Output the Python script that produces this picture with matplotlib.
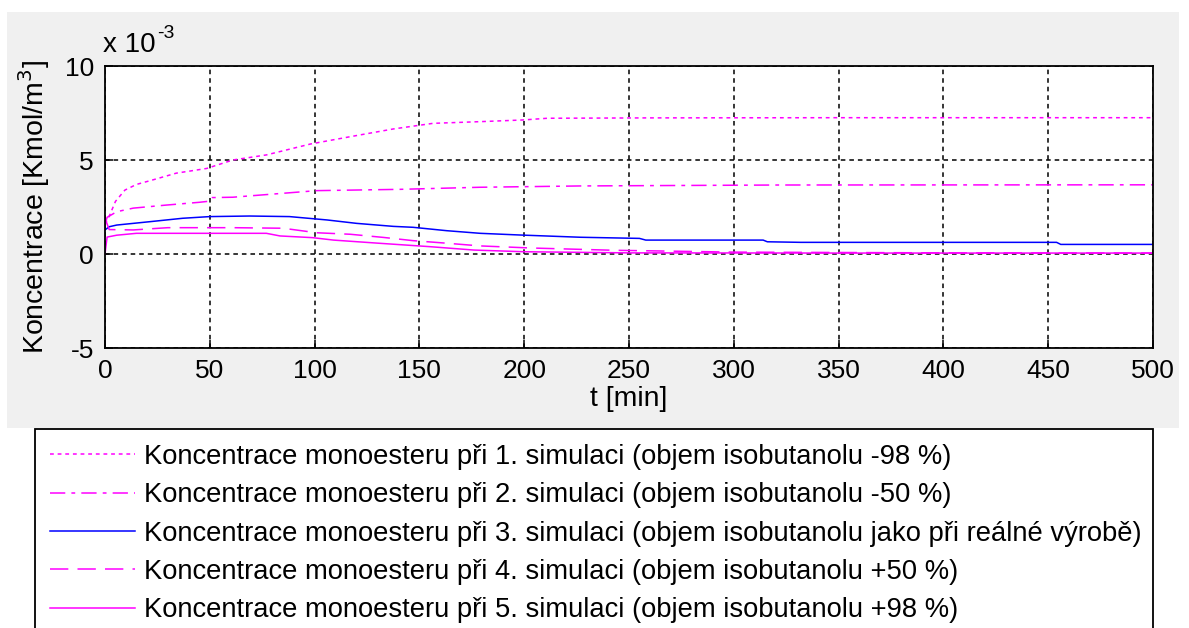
import matplotlib
matplotlib.use("Agg")
import matplotlib.pyplot as plt
from matplotlib.patches import Rectangle

plt.rcParams['font.family'] = ['Liberation Sans', 'DejaVu Sans']

# time [min] and concentrations [x 1e-3 Kmol/m3]
t1 = [0, 2, 5, 9.5, 15, 21.5, 34, 48.5, 61, 77, 98, 117, 137.5, 147, 156.5, 179, 199.5, 211, 260, 350, 500]
c1 = [1.6, 2.0, 2.8, 3.4, 3.7, 3.9, 4.3, 4.55, 5.0, 5.27, 5.85, 6.24, 6.65, 6.8, 6.95, 7.04, 7.13, 7.22, 7.24, 7.25, 7.25]

t2 = [0, 1, 5.6, 13.5, 29, 45, 49, 51, 61, 85, 101, 141, 179, 227, 322, 500]
c2 = [1.6, 1.95, 2.25, 2.44, 2.6, 2.75, 2.8, 3.0, 3.02, 3.23, 3.37, 3.44, 3.55, 3.62, 3.67, 3.68]

t3 = [0, 2, 5.6, 21.5, 37, 50, 69, 88, 106, 120, 137.5, 147, 163, 179, 198, 227, 255, 258, 314, 316, 332, 454, 456, 500]
c3 = [1.28, 1.45, 1.54, 1.72, 1.9, 1.99, 2.02, 1.99, 1.81, 1.63, 1.47, 1.42, 1.24, 1.1, 1.01, 0.89, 0.83, 0.74, 0.74, 0.65, 0.62, 0.62, 0.51, 0.51]

t4 = [0, 2, 13.5, 30, 61, 85, 101, 117, 133, 147, 160, 179, 203, 242, 300, 400, 500]
c4 = [1.9, 1.3, 1.28, 1.4, 1.4, 1.37, 1.13, 1.05, 0.88, 0.71, 0.6, 0.43, 0.32, 0.2, 0.1, 0.06, 0.05]

t5 = [0, 1, 5.6, 15, 77, 83.5, 99, 109, 131, 155, 176, 200, 250, 350, 500]
c5 = [0.0, 0.9, 1.0, 1.1, 1.1, 0.96, 0.87, 0.74, 0.57, 0.39, 0.21, 0.12, 0.06, 0.05, 0.05]

labels = [
    "Koncentrace monoesteru při 1. simulaci (objem isobutanolu -98 %)",
    "Koncentrace monoesteru při 2. simulaci (objem isobutanolu -50 %)",
    "Koncentrace monoesteru při 3. simulaci (objem isobutanolu jako při reálné výrobě)",
    "Koncentrace monoesteru při 4. simulaci (objem isobutanolu +50 %)",
    "Koncentrace monoesteru při 5. simulaci (objem isobutanolu +98 %)",
]
xticks = [0, 50, 100, 150, 200, 250, 300, 350, 400, 450, 500]
yticks = [-5, 0, 5, 10]

W, H = 1189, 628
fig = plt.figure(figsize=(W / 100, H / 100), dpi=100, facecolor='white')

# gray figure panel
fig.patches.append(Rectangle((7 / W, 1 - 428 / H), (1179 - 7) / W, (428 - 12) / H,
                             transform=fig.transFigure, facecolor='#f0f0f0',
                             edgecolor='none', zorder=-10))

ax = fig.add_axes([105 / W, 1 - 348 / H, (1153 - 105) / W, (348 - 66) / H])
ax.set_facecolor('white')

lw = 1.1
mag = '#ff00ff'
ax.plot(t1, c1, color=mag, lw=lw, linestyle=(0, (2.5, 2.5)), label=labels[0])
ax.plot(t2, c2, color=mag, lw=lw, linestyle=(0, (10, 4, 2.5, 4)), label=labels[1])
ax.plot(t3, c3, color='#0000ff', lw=lw, linestyle='-', label=labels[2])
ax.plot(t4, c4, color=mag, lw=lw, linestyle=(0, (12, 6)), label=labels[3])
ax.plot(t5, c5, color=mag, lw=lw, linestyle='-', label=labels[4])

ax.set_xlim(0, 500)
ax.set_ylim(-5, 10)
ax.set_xticks(xticks)
ax.set_yticks(yticks)
ax.set_xticklabels([str(v) for v in xticks])
ax.set_yticklabels([str(v) for v in yticks])
ax.grid(True, color='black', linestyle=(0, (3, 2.6)), linewidth=1.1)
ax.set_axisbelow(True)
ax.tick_params(direction='in', length=6, width=1.1, labelsize=19, pad=8,
               top=False, right=False)
for s in ax.spines.values():
    s.set_linewidth(1.3)
    s.set_color('black')

ax.set_xlabel("t [min]", fontsize=20.5, labelpad=2)
ax.set_ylabel("Koncentrace [Kmol/m$^3$]", fontsize=20.5, labelpad=9)

tx = fig.text(103 / W, 1 - 52 / H, "x 10", fontsize=20, ha='left', va='baseline')
ax.annotate("-3", xy=(1.0, 0.62), xycoords=tx, xytext=(1, 0),
            textcoords='offset points', fontsize=14, ha='left', va='bottom',
            annotation_clip=False)

leg = fig.legend(loc='upper left',
                 bbox_to_anchor=(35 / W, 0, (1153 - 35) / W, 1 - 429 / H),
                 mode='expand', borderaxespad=0, fontsize=19.7,
                 handlelength=3.1, handletextpad=0.33, labelspacing=0.45,
                 borderpad=0.55, fancybox=False, framealpha=1, edgecolor='black')
leg.get_frame().set_linewidth(1.3)

fig.savefig("out.png", dpi=100, facecolor='white')
